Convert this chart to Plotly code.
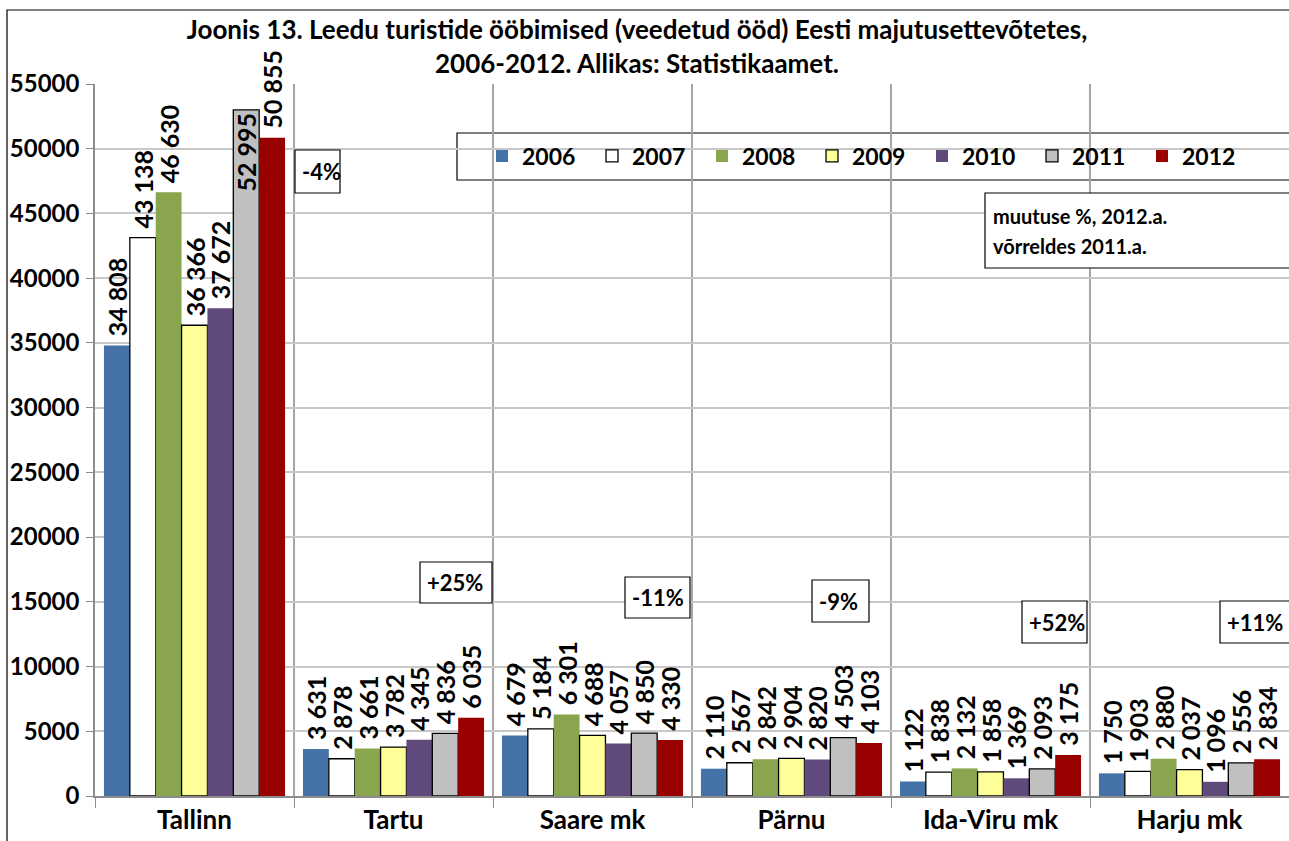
import plotly.graph_objects as go

# --- andmed ---
regions = ["Tallinn", "Tartu", "Saare mk", "Pärnu", "Ida-Viru mk", "Harju mk"]
years = ["2006", "2007", "2008", "2009", "2010", "2011", "2012"]
nights = {
    "2006": [34808, 3631, 4679, 2110, 1122, 1750],
    "2007": [43138, 2878, 5184, 2567, 1838, 1903],
    "2008": [46630, 3661, 6301, 2842, 2132, 2880],
    "2009": [36366, 3782, 4688, 2904, 1858, 2037],
    "2010": [37672, 4345, 4057, 2820, 1369, 1096],
    "2011": [52995, 4836, 4850, 4503, 2093, 2556],
    "2012": [50855, 6035, 4330, 4103, 3175, 2834],
}
change_labels = ["-4%", "+25%", "-11%", "-9%", "+52%", "+11%"]
y_ticks = list(range(0, 55001, 5000))

colors = {
    "2006": "#4572A7", "2007": "#FFFFFF", "2008": "#89A54E", "2009": "#FFFF99",
    "2010": "#604A7B", "2011": "#C0C0C0", "2012": "#990000",
}
outlined = {"2007", "2009", "2011"}

FONT = "Lato"
W, H = 1289, 841
L, R, T, B = 95, 1289, 84, 796  # plot area in pixels


def px(x):
    return (x - L) / (R - L)


def py(y):
    return (B - y) / (B - T)


fig = go.Figure()
for yr in years:
    # a label that would not fit above the bar goes inside it (as in Excel)
    pos = ["inside" if (yr == "2011" and v > 52000) else "outside" for v in nights[yr]]
    txt = [("" if p == "inside" else "\u00a0") + f"{v:,}".replace(",", " ")
           for v, p in zip(nights[yr], pos)]
    fig.add_trace(go.Bar(
        x=regions, y=nights[yr], name=yr,
        marker=dict(color=colors[yr],
                    line=dict(color="black" if yr in outlined else colors[yr],
                              width=1.3 if yr in outlined else 0)),
        text=txt,
        textposition=pos, textangle=-90, constraintext="none", insidetextanchor="end",
        textfont=dict(family=FONT, size=25, color="black", weight="bold"),
        cliponaxis=False,
    ))

# --- kastid muutuse protsendiga ---
boxes = [  # (x_left_px, x_right_px, y_top_px, y_bottom_px)
    (295, 340, 150, 193), (420, 492, 562, 603), (625, 690, 577, 618),
    (812, 869, 580, 622), (1022, 1087, 601, 643), (1220, 1292, 601, 643),
]
for lab, (x0, x1, y0, y1) in zip(change_labels, boxes):
    fig.add_shape(type="rect", xref="paper", yref="paper",
                  x0=px(x0), x1=px(x1), y0=py(y1), y1=py(y0),
                  line=dict(color="black", width=1.2), fillcolor="white", layer="above")
    fig.add_annotation(xref="paper", yref="paper", x=px(x0 + 5), y=py((y0 + y1) / 2),
                       xanchor="left", yanchor="middle", showarrow=False, text=lab,
                       font=dict(family=FONT, size=22, color="black", weight="bold"))

# selgituse kast
fig.add_shape(type="rect", xref="paper", yref="paper",
              x0=px(985), x1=px(1295), y0=py(268), y1=py(193),
              line=dict(color="black", width=1.2), fillcolor="white", layer="above")
for t, yy in [("muutuse %, 2012.a.", 216), ("võrreldes 2011.a.", 246)]:
    fig.add_annotation(xref="paper", yref="paper", x=px(991), y=py(yy),
                       xanchor="left", yanchor="middle", showarrow=False, text=t,
                       font=dict(family=FONT, size=20, color="black", weight="bold"))

# legendi raam
fig.add_shape(type="rect", xref="paper", yref="paper",
              x0=px(457), x1=px(1296), y0=py(180), y1=py(133),
              line=dict(color="black", width=1.2), fillcolor="white", layer="below")

# välisraam
fig.add_shape(type="rect", xref="paper", yref="paper",
              x0=px(7), x1=px(1300), y0=py(860), y1=py(10),
              line=dict(color="black", width=1.2), layer="below")

fig.update_layout(
    width=W, height=H,
    margin=dict(l=L, r=W - R, t=T, b=H - B),
    paper_bgcolor="white", plot_bgcolor="white",
    barmode="group", bargap=0.09, bargroupgap=0,
    font=dict(family=FONT, color="black"),
    title=dict(text="Joonis 13. Leedu turistide ööbimised (veedetud ööd) Eesti majutusettevõtetes,<br>2006-2012. Allikas: Statistikaamet.",
               x=637 / W, xanchor="center", y=1 - 39 / H, yanchor="middle",
               font=dict(family=FONT, size=26, color="black", weight="bold")),
    showlegend=True,
    legend=dict(orientation="h", x=px(482), y=py(156), xanchor="left", yanchor="middle",
                bgcolor="rgba(0,0,0,0)", borderwidth=0, itemwidth=30,
                entrywidth=65, entrywidthmode="pixels",
                font=dict(family=FONT, size=23, color="black", weight="bold")),
)
fig.update_xaxes(
    type="category", range=[-0.5, 5.5], tickson="boundaries",
    showgrid=True, gridcolor="#A6A6A6", gridwidth=1.5,
    showline=True, linecolor="#8C8C8C", linewidth=1.5,
    ticks="outside", ticklen=10, tickcolor="#8C8C8C",
    tickfont=dict(family=FONT, size=26, color="black", weight="bold"),
)
fig.update_yaxes(
    range=[0, 55000], tickvals=y_ticks, ticktext=[str(v) for v in y_ticks],
    showgrid=True, gridcolor="#C8C8C8", gridwidth=1.5,
    showline=True, linecolor="#8C8C8C", linewidth=1.5,
    ticks="outside", ticklen=7, tickcolor="#8C8C8C", ticklabelstandoff=2,
    tickfont=dict(family=FONT, size=24, color="black", weight="bold"),
    zeroline=False,
)

# lehe äärise eemaldamine, et joonis täidaks akna
fig.write_html("out.html", config={"displayModeBar": False},
               post_script="document.body.style.margin='0';document.body.style.overflow='hidden';")
